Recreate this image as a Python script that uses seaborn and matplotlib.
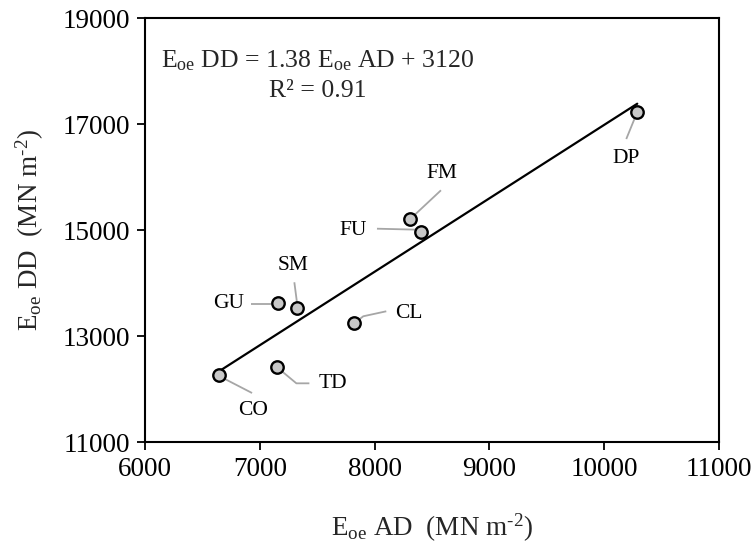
import numpy as np
import pandas as pd
import matplotlib
matplotlib.use("Agg")
import matplotlib.pyplot as plt
import seaborn as sns

# ---- data ----
codes = ["CO", "TD", "GU", "SM", "CL", "FM", "FU", "DP"]
eoe_ad = [6645, 7153, 7161, 7327, 7823, 8308, 8404, 10288]
eoe_dd = [12264, 12409, 13628, 13523, 13240, 15202, 14968, 17226]
x_ticks = [6000, 7000, 8000, 9000, 10000, 11000]
y_ticks = [11000, 13000, 15000, 17000, 19000]
eq_text = "E$_{\\rm oe}$ DD = 1.38 E$_{\\rm oe}$ AD + 3120\nR² = 0.91"

df = pd.DataFrame({"code": codes, "AD": eoe_ad, "DD": eoe_dd})

sns.set_theme(style="white")
plt.rcParams["font.family"] = ["Liberation Serif", "DejaVu Serif"]
plt.rcParams["mathtext.fontset"] = "custom"
plt.rcParams["mathtext.rm"] = "Liberation Serif"
plt.rcParams["mathtext.it"] = "Liberation Serif:italic"
plt.rcParams["mathtext.bf"] = "Liberation Serif:bold"

fig = plt.figure(figsize=(7.56, 5.45), dpi=100)
ax = fig.add_axes([145 / 756, 1 - 442 / 545, (719 - 145) / 756, (442 - 18) / 545])

sns.regplot(data=df, x="AD", y="DD", ax=ax, scatter=False, ci=None,
            line_kws=dict(color="black", lw=1.6, zorder=2))
sns.scatterplot(data=df, x="AD", y="DD", ax=ax, s=80, color="#c8c8c8",
                edgecolor="black", linewidth=1.7, zorder=3)

ax.set_xlim(6000, 11000)
ax.set_ylim(11000, 19000)
ax.set_xticks(x_ticks)
ax.set_yticks(y_ticks)
ax.tick_params(direction="out", length=6, width=1.3, labelsize=19.5, pad=5,
               colors="black", left=True, bottom=True)
for s in ax.spines.values():
    s.set_linewidth(1.5)
    s.set_color("black")

unit = " (MN m$^{\\rm \\text{-}2}$)"
ax.set_xlabel("E$_{\\rm oe}$ AD " + unit, fontsize=19.5, labelpad=21)
ax.set_ylabel("E$_{\\rm oe}$ DD " + unit, fontsize=19.5, labelpad=12)

ax.text((318 - 145) / 574, 1 - (48 - 18) / 424, eq_text,
        transform=ax.transAxes, ha="center", va="top", fontsize=18.5,
        linespacing=1.45)

# leader lines (pixel offsets relative to point, y downward) and label positions
leaders = {
    "CO": ([(2, 2), (33, 18)], (34, 35), "center"),
    "TD": ([(1, 1), (19, 16), (32, 16)], (41, 16), "left"),
    "GU": ([(-7, 1), (-27, 1)], (-50, 1), "center"),
    "SM": ([(0, -3), (-3, -26)], (-4, -43), "center"),
    "CL": ([(0, 0), (9, -7), (32, -12)], (41, -10), "left"),
    "FM": ([(0, 0), (31, -29)], (32, -46), "center"),
    "FU": ([(-3, -2), (-44, -3)], (-68, -1), "center"),
    "DP": ([(0, 0), (-11, 27)], (-11, 46), "center"),
}

fig.canvas.draw()
inv = ax.transData.inverted()
for c, xv, yv in zip(codes, eoe_ad, eoe_dd):
    verts, lab, ha = leaders[c]
    P = ax.transData.transform((xv, yv))
    pts = np.array([[P[0] + dx, P[1] - dy] for dx, dy in verts])
    d = inv.transform(pts)
    ax.plot(d[:, 0], d[:, 1], color="#a6a6a6", lw=1.3, zorder=2.5,
            solid_capstyle="butt")
    L = inv.transform((P[0] + lab[0], P[1] - lab[1]))
    ax.text(L[0], L[1], c, fontsize=15.5, ha=ha, va="center", color="black")

fig.savefig("out.png", dpi=100)
